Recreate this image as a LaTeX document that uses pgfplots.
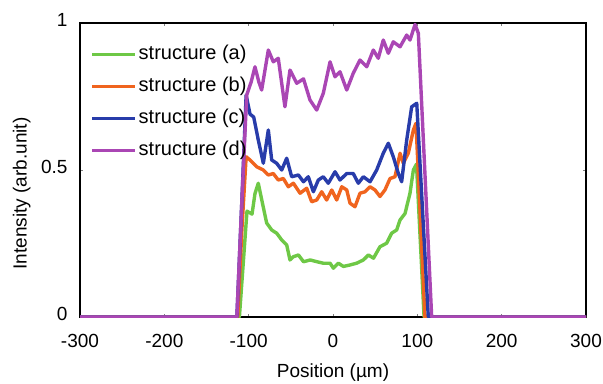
\documentclass[border=0pt]{standalone}
\usepackage{fontspec}
\setmainfont{Liberation Sans}
\usepackage{pgfplots}
\pgfplotsset{compat=1.18}
\definecolor{cA}{RGB}{110,200,70}
\definecolor{cB}{RGB}{240,100,30}
\definecolor{cC}{RGB}{40,60,170}
\definecolor{cD}{RGB}{170,70,180}
\begin{document}
\fontsize{19bp}{22bp}\selectfont
\begin{tikzpicture}
\begin{axis}[
  name=ax,
  scale only axis, width=506bp, height=294bp,
  xmin=-300, xmax=300, ymin=0, ymax=1,
  xtick={-300,-200,...,300}, ytick={0,0.5,1},
  yticklabels={0,0.5,1},
  /pgf/number format/assume math mode=true,
  tick label style={font=\fontsize{19bp}{22bp}\selectfont},
  xticklabel style={yshift=-11bp},
  yticklabel style={xshift=-6bp, yshift=3bp},
  label style={font=\fontsize{19bp}{22bp}\selectfont},
  tick align=inside, major tick length=3bp,
  tick style={black!50, line width=0.6bp},
  axis line style={black, line width=1.5bp},
  xlabel={Position (µm)}, ylabel={Intensity (arb.unit)},
  xlabel style={at={(axis description cs:0.5,-0.19)}, anchor=center},
  ylabel style={at={(axis description cs:-0.115,0.42)}, anchor=center},
  every axis plot/.append style={line width=3.4bp, line join=round},
  legend cell align=left,
  legend image code/.code={\draw[#1] (0bp,0bp) -- (43bp,0bp);},
  legend style={draw=none, fill=none, inner sep=0pt, row sep=14bp,
    column sep=2bp,
    at={(axis description cs:0.02,0.925)}, anchor=north west,
    font=\fontsize{20bp}{23bp}\selectfont,
    nodes={inner sep=0pt, text height=14bp, text depth=4bp}},
]
\addplot[cA] coordinates {
(-300,0) (-111,0) (-106,0.2) (-102,0.36) (-96,0.35) (-92.5,0.42) (-88.6,0.455)
(-84.6,0.40) (-78.7,0.32) (-72.7,0.296) (-66.8,0.285) (-60.8,0.262) (-54.9,0.245)
(-51,0.194) (-47,0.205) (-41,0.211) (-35,0.188) (-27,0.194) (-19,0.188) (-11.5,0.183)
(-3.5,0.183) (0.4,0.166) (6.4,0.183) (12.3,0.172) (20.2,0.177) (28,0.183) (36,0.194)
(42,0.211) (48,0.2) (55.7,0.239) (63.6,0.251) (69.5,0.285) (75.5,0.296) (79.5,0.33)
(85.4,0.352) (91.3,0.421) (95.3,0.5) (99,0.52) (108,0) (300,0)};
\addlegendentry{structure (a)}
\addplot[cB] coordinates {
(-300,0) (-113,0) (-108,0.3) (-103,0.545) (-98.4,0.534) (-90.5,0.511) (-82.6,0.5)
(-76.7,0.483) (-70.8,0.488) (-64.9,0.466) (-58.9,0.471) (-53,0.443) (-47,0.455)
(-39,0.421) (-31.2,0.438) (-25.3,0.392) (-19.3,0.398) (-13.4,0.426) (-7.5,0.398)
(-1.5,0.432) (4.4,0.398) (10.4,0.443) (16.3,0.432) (20.2,0.387) (26.1,0.375) (32,0.421)
(38,0.426) (43.9,0.443) (49.8,0.432) (55.7,0.41) (61.6,0.432) (67.6,0.471) (73.5,0.477)
(79.5,0.557) (83.4,0.523) (89.3,0.557) (95.3,0.636) (98.4,0.659) (109,0) (300,0)};
\addlegendentry{structure (b)}
\addplot[cC] coordinates {
(-300,0) (-114,0) (-108,0.4) (-103,0.755) (-98.4,0.69) (-94,0.68) (-88.6,0.602)
(-82.6,0.523) (-76.7,0.636) (-72.7,0.534) (-66.8,0.523) (-60.8,0.5) (-54.9,0.54)
(-49,0.477) (-41,0.483) (-35,0.46) (-29.3,0.477) (-23.3,0.426) (-17.4,0.466) (-11.5,0.477)
(-5.6,0.455) (2.4,0.494) (8.3,0.466) (16.3,0.488) (24,0.488) (30,0.455) (36,0.477)
(43.9,0.46) (51.8,0.5) (59.6,0.557) (65.6,0.591) (71.5,0.545) (77.5,0.488) (81.4,0.46)
(87.4,0.602) (93.3,0.715) (99.3,0.727) (113,0) (300,0)};
\addlegendentry{structure (c)}
\addplot[cD] coordinates {
(-300,0) (-114,0) (-108,0.4) (-102.3,0.755) (-97,0.80) (-92.5,0.851) (-88,0.80)
(-84.6,0.772) (-76.7,0.908) (-70.8,0.868) (-64.9,0.88) (-57,0.715) (-51,0.84) (-43,0.795)
(-35,0.81) (-27.3,0.738) (-19.3,0.704) (-11.5,0.761) (-3.5,0.868) (2.4,0.817) (8.3,0.834)
(16.3,0.772) (24,0.829) (32,0.874) (40,0.851) (47.8,0.908) (53.7,0.88) (59.6,0.942)
(65.6,0.897) (71.5,0.936) (79.5,0.919) (87.4,0.959) (91.3,0.942) (97.3,0.995)
(101.2,0.965) (117,0) (300,0)};
\addlegendentry{structure (d)}
\end{axis}
\pgfresetboundingbox
\path[use as bounding box] ([xshift=-80bp,yshift=-66bp]ax.south west) rectangle ([xshift=17bp,yshift=23bp]ax.north east);
\end{tikzpicture}
\end{document}
